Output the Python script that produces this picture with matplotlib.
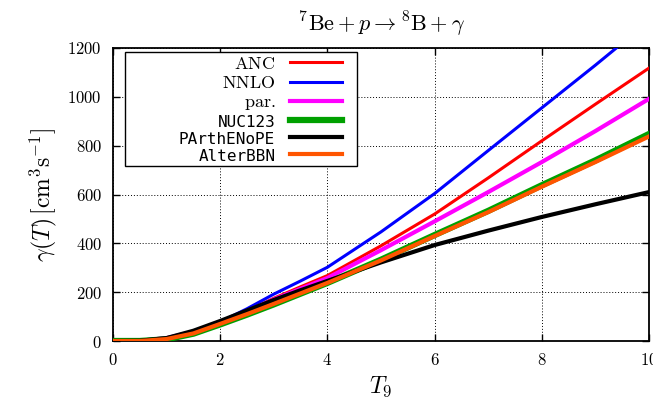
import matplotlib
matplotlib.use("Agg")
import matplotlib.pyplot as plt
from matplotlib.patches import Rectangle

plt.rcParams['mathtext.fontset'] = 'cm'
plt.rcParams['font.family'] = 'serif'
plt.rcParams['font.serif'] = ['DejaVu Serif']

T9 = [0, 0.5, 1, 1.5, 2, 2.5, 3, 3.5, 4, 5, 6, 7, 8, 9, 10]

anc = [0, 1, 12, 38, 75, 122, 175, 222, 268, 390, 520, 668, 820, 970, 1118]
nnlo = [0, 1, 12, 40, 78, 132, 192, 246, 302, 447, 604, 780, 955, 1130, 1310]
par = [0, 1, 12, 38, 75, 120, 170, 214, 258, 372, 490, 610, 733, 860, 992]
nuc123 = [0, 0, 7, 30, 68, 108, 150, 194, 238, 333, 434, 533, 638, 740, 848]
parthenope = [0, 1, 12, 42, 82, 125, 168, 208, 246, 322, 393, 452, 508, 560, 610]
alterbbn = [0, 0, 8, 31, 70, 110, 152, 195, 238, 330, 430, 528, 632, 733, 838]

fig, ax = plt.subplots(figsize=(6.53, 4.0), dpi=100)
fig.subplots_adjust(left=0.173, right=0.994, top=0.88, bottom=0.1475)

ax.plot(T9, anc, color='#ff0000', lw=2.2, label=r'$\mathrm{ANC}$', zorder=3)
ax.plot(T9, nnlo, color='#0000ff', lw=2.2, label=r'$\mathrm{NNLO}$', zorder=3)
ax.plot(T9, par, color='#ff00ff', lw=3.0, label=r'$\mathrm{par.}$', zorder=3)
ax.plot(T9, nuc123, color='#00a000', lw=4.5, label='NUC123', zorder=3)
ax.plot(T9, parthenope, color='#000000', lw=3.0, label='PArthENoPE', zorder=4)
ax.plot(T9, alterbbn, color='#ff5500', lw=3.0, label='AlterBBN', zorder=5)

ax.set_xlim(0, 10)
ax.set_ylim(0, 1200)
xt = [0, 2, 4, 6, 8, 10]
yt = [0, 200, 400, 600, 800, 1000, 1200]
ax.set_xticks(xt)
ax.set_xticklabels([f'${v}$' for v in xt], fontsize=12)
ax.set_yticks(yt)
ax.set_yticklabels([f'${v}$' for v in yt], fontsize=12)
ax.tick_params(direction='in', top=True, right=True, length=5, width=1, pad=8)
ax.grid(True, color='black', linestyle=(0, (1, 2)), linewidth=0.7)
for s in ax.spines.values():
    s.set_linewidth(1.3)

ax.set_title(r'$^{7}\mathrm{Be}+p\rightarrow{}^{8}\mathrm{B}+\gamma$', fontsize=16, pad=12)
ax.set_xlabel(r'$T_9$', fontsize=17, labelpad=4)
ax.set_ylabel(r'$\gamma(T)\,[\mathrm{cm}^3\mathrm{s}^{-1}]$', fontsize=17, labelpad=6)

# legend frame drawn separately so the box can be wider than its contents
box = Rectangle((0.0224, 0.597), 0.433, 0.389, transform=ax.transAxes,
                facecolor='white', edgecolor='black', lw=1.0, zorder=6)
ax.add_patch(box)

leg = ax.legend(loc='upper right', bbox_to_anchor=(0.434, 0.99), frameon=False,
                markerfirst=False, alignment='right', fontsize=13,
                handlelength=2.9, labelspacing=0.08, borderpad=0.2, handletextpad=0.8,
                borderaxespad=0.0)
leg.set_zorder(7)
for t in leg.get_texts():
    t.set_ha('right')
    if not t.get_text().startswith('$'):
        t.set_family('DejaVu Sans Mono')
        t.set_fontsize(11.5)

fig.savefig('out.png', dpi=100)
